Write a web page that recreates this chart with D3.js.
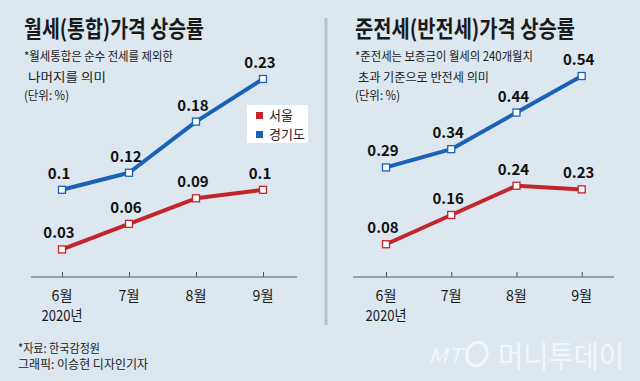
<!DOCTYPE html>
<html><head><meta charset="utf-8">
<script src="https://cdn.jsdelivr.net/npm/d3@7"></script>
<style>
html,body{margin:0;padding:0;background:#dce7ef;}
svg{display:block;}
text{font-family:"Noto Sans CJK KR","Noto Sans",sans-serif;}
</style></head>
<body>
<svg id="c" width="640" height="381"></svg>
<script>
const months = ["6월","7월","8월","9월"];
const seriesNames = ["서울","경기도"];
const wolseSeoul = [0.03,0.06,0.09,0.1];
const wolseGyeonggi = [0.1,0.12,0.18,0.23];
const junSeoul = [0.08,0.16,0.24,0.23];
const junGyeonggi = [0.29,0.34,0.44,0.54];
const wolseLabelsSeoul = ["0.03","0.06","0.09","0.1"];
const wolseLabelsGyeonggi = ["0.1","0.12","0.18","0.23"];
const junLabelsSeoul = ["0.08","0.16","0.24","0.23"];
const junLabelsGyeonggi = ["0.29","0.34","0.44","0.54"];

const RED = "#c4242b", BLUE = "#1a62b8";
const svg = d3.select("#c");
svg.append("rect").attr("width",640).attr("height",381).attr("fill","#dce7ef");

function panel(cfg){
  const g = svg.append("g");
  const x = d3.scalePoint().domain(months).range(cfg.xr);
  const y = d3.scaleLinear().domain(cfg.yd).range(cfg.yr);
  g.append("text").attr("x",cfg.tx).attr("y",37).attr("font-size",23).attr("font-weight",700)
    .attr("fill","#1a1a1a").attr("textLength",cfg.tw).attr("lengthAdjust","spacingAndGlyphs").text(cfg.title);
  cfg.notes.forEach((n,i)=>{
    g.append("text").attr("x",cfg.tx+(n.dx||0)).attr("y",n.y).attr("font-size",12.5)
      .attr("fill","#222").attr("textLength",n.w).attr("lengthAdjust","spacingAndGlyphs").text(n.t);
  });
  const ax = g.append("g").attr("transform","translate(0,277)")
    .call(d3.axisTop(x).tickSize(5).tickFormat(""));
  ax.select(".domain").attr("d",`M${cfg.ax[0]},0H${cfg.ax[1]}`).attr("stroke","#555");
  ax.selectAll(".tick line").attr("stroke","#555");
  months.forEach(m=>{
    g.append("text").attr("x",x(m)).attr("y",301).attr("text-anchor","middle")
      .attr("font-size",15).attr("fill","#1a1a1a").attr("textLength",21).attr("lengthAdjust","spacingAndGlyphs").text(m);
  });
  g.append("text").attr("x",x(months[0])).attr("y",321).attr("text-anchor","middle")
    .attr("font-size",15).attr("fill","#1a1a1a").attr("textLength",41).attr("lengthAdjust","spacingAndGlyphs").text("2020년");
  const line = d3.line().x((d,i)=>x(months[i])).y(d=>y(d));
  [[cfg.blue,BLUE,cfg.bl],[cfg.red,RED,cfg.rl]].forEach(([vals,col,labs])=>{
    g.append("path").datum(vals).attr("d",line).attr("fill","none").attr("stroke",col)
      .attr("stroke-width",4).attr("stroke-linejoin","round");
    vals.forEach((v,i)=>{
      g.append("rect").attr("x",x(months[i])-3.5).attr("y",y(v)-3.5).attr("width",7).attr("height",7)
        .attr("fill","#fff").attr("stroke",col).attr("stroke-width",1.3);
      g.append("text").attr("x",x(months[i])-3).attr("y",y(v)-11).attr("text-anchor","middle")
        .attr("font-family","Liberation Sans, Arial, sans-serif").attr("font-weight",700)
        .attr("font-size",15).attr("fill","#111").text(labs[i]);
    });
  });
  return {x,y};
}

panel({xr:[62,263],yd:[0,0.23],yr:[275,79],ax:[31,297],tx:24,tw:180,title:"월세(통합)가격 상승률",
  notes:[{t:"*월세통합은 순수 전세를 제외한",y:61,w:149},{t:"나머지를 의미",y:82,w:78,dx:4},{t:"(단위: %)",y:100,w:45}],
  blue:wolseGyeonggi,red:wolseSeoul,bl:wolseLabelsGyeonggi,rl:wolseLabelsSeoul});
panel({xr:[386,581.7],yd:[0,0.54],yr:[273.5,76],ax:[353,614],tx:355,tw:220,title:"준전세(반전세)가격 상승률",
  notes:[{t:"*준전세는 보증금이 월세의 240개월치",y:61,w:178},{t:"초과 기준으로 반전세 의미",y:82,w:131,dx:3},{t:"(단위: %)",y:100,w:45}],
  blue:junGyeonggi,red:junSeoul,bl:junLabelsGyeonggi,rl:junLabelsSeoul});

svg.append("rect").attr("x",324.5).attr("y",18).attr("width",3).attr("height",307).attr("fill","#b7c3cc");

const lg = svg.append("g");
lg.append("rect").attr("x",247).attr("y",105).attr("width",61).attr("height",38).attr("fill","#fff");
[[seriesNames[0],RED,112],[seriesNames[1],BLUE,131]].forEach(([n,c,yy])=>{
  lg.append("rect").attr("x",256).attr("y",yy).attr("width",7).attr("height",7).attr("fill",c);
  lg.append("text").attr("x",269).attr("y",yy+7.5).attr("font-size",13).attr("fill","#222").text(n);
});

svg.append("text").attr("x",18).attr("y",353).attr("font-size",12).attr("fill","#222")
  .attr("textLength",82).attr("lengthAdjust","spacingAndGlyphs").text("*자료: 한국감정원");
svg.append("text").attr("x",18).attr("y",369).attr("font-size",12).attr("fill","#222")
  .attr("textLength",130).attr("lengthAdjust","spacingAndGlyphs").text("그래픽: 이승현 디자인기자");

const lo = svg.append("g").attr("fill","#f3f6f9");
lo.append("text").attr("x",428).attr("y",363).attr("font-size",20).attr("font-style","italic")
  .attr("font-family","Liberation Serif, serif").attr("textLength",34).attr("lengthAdjust","spacingAndGlyphs").text("MT");
lo.append("ellipse").attr("cx",477).attr("cy",354).attr("rx",10).attr("ry",12).attr("fill","none")
  .attr("stroke","#f3f6f9").attr("stroke-width",3).attr("transform","rotate(20,477,354)");
lo.append("text").attr("x",498).attr("y",367).attr("font-size",30)
  .attr("textLength",126).attr("lengthAdjust","spacingAndGlyphs").text("머니투데이");
</script>
</body></html>
